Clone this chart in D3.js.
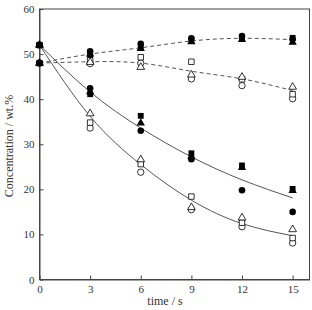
<!DOCTYPE html>
<html lang="en">
<head>
<meta charset="UTF-8"/>
<title>Concentration vs time</title>
<style>
  body { margin: 0; background: #fff; }
  text { font-family: "Liberation Serif", "DejaVu Serif", serif; fill: #333; }
</style>
<script src="https://d3js.org/d3.v7.min.js"></script>
</head>
<body>
<div id="chart"></div>
<script>
// sampling times (s)
var times = [0, 3, 6, 9, 12, 15];
var xTicks = [0, 3, 6, 9, 12, 15];
var yTicks = [0, 10, 20, 30, 40, 50, 60];

// measured points, wt.%
var fillCircleLow  = [52, 42.4, 33.0, 26.7, 19.8, 15.0];
var fillSquareLow  = [52, 41.1, 36.3, 28.0, 25.3, 20.1];
var fillTriLow     = [52, 41.6, 34.7, 27.3, 24.8, 19.7];
var openTriLow     = [52, 36.8, 26.6, 16.0, 13.7, 11.1];
var openSquareLow  = [52, 34.8, 25.6, 18.4, 12.6, 9.2];
var openCircleLow  = [52, 33.6, 23.8, 15.5, 11.7, 8.1];

var fillCircleHigh = [48, 50.6, 52.3, 53.5, 54.0, 53.3];
var fillSquareHigh = [48, 49.8, 51.5, 53.0, 53.6, 53.6];
var fillTriHigh    = [48, 50.0, 51.2, 52.7, 53.2, 52.6];
var openSquareHigh = [48, 48.6, 49.3, 48.3, 44.4, 41.1];
var openTriHigh    = [48, 48.2, 47.1, 45.4, 44.9, 42.7];
var openCircleHigh = [48, 47.9, 48.0, 44.5, 43.0, 40.1];

// fitted curves
var fitSolidUpper  = [52, 41.6, 33.6, 27.2, 22.1, 18.1];
var fitSolidLower  = [52, 36.2, 25.5, 17.6, 12.4, 9.7];
var fitDashUpper   = [48, 50.0, 51.4, 52.9, 53.5, 53.2];
var fitDashLower   = [48, 48.3, 48.0, 46.2, 44.5, 41.9];

var W = 312, H = 310;
var pLeft = 39.5, pTop = 9, pRight = 309.5, pBottom = 279.5;

var svg = d3.select("#chart").append("svg")
    .attr("width", W)
    .attr("height", H);

var x = d3.scaleLinear().domain([0, 16]).range([pLeft, pRight]);
var y = d3.scaleLinear().domain([0, 60]).range([pBottom, pTop]);

// frame
svg.append("rect")
    .attr("x", pLeft).attr("y", pTop)
    .attr("width", pRight - pLeft).attr("height", pBottom - pTop)
    .attr("fill", "none").attr("stroke", "#444").attr("stroke-width", 1);

var xAxis = svg.append("g")
    .attr("transform", "translate(0," + pBottom + ")")
    .call(d3.axisBottom(x).tickValues(xTicks).tickSizeInner(-4).tickSizeOuter(0).tickPadding(6));
var yAxis = svg.append("g")
    .attr("transform", "translate(" + pLeft + ",0)")
    .call(d3.axisLeft(y).tickValues(yTicks).tickSizeInner(-4).tickSizeOuter(0).tickPadding(5));

[xAxis, yAxis].forEach(function(g) {
  g.select(".domain").attr("stroke", "#444");
  g.selectAll(".tick line").attr("stroke", "#444");
  g.selectAll(".tick text")
    .attr("font-family", "Liberation Serif")
    .attr("font-size", 11)
    .attr("fill", "#333");
});

// fitted lines
var line = d3.line()
    .x(function(d, i) { return x(times[i]); })
    .y(function(d) { return y(d); })
    .curve(d3.curveNatural);

[fitSolidUpper, fitSolidLower].forEach(function(s) {
  svg.append("path").attr("d", line(s))
    .attr("fill", "none").attr("stroke", "#555").attr("stroke-width", 1);
});
[fitDashUpper, fitDashLower].forEach(function(s) {
  svg.append("path").attr("d", line(s))
    .attr("fill", "none").attr("stroke", "#555").attr("stroke-width", 1)
    .attr("stroke-dasharray", "4,3");
});

// markers
var series = [
  { v: openCircleLow,  sym: d3.symbolCircle,   size: 32, filled: false },
  { v: openSquareLow,  sym: d3.symbolSquare,   size: 30, filled: false },
  { v: openTriLow,     sym: d3.symbolTriangle, size: 26, filled: false },
  { v: openCircleHigh, sym: d3.symbolCircle,   size: 32, filled: false },
  { v: openSquareHigh, sym: d3.symbolSquare,   size: 30, filled: false },
  { v: openTriHigh,    sym: d3.symbolTriangle, size: 26, filled: false },
  { v: fillCircleLow,  sym: d3.symbolCircle,   size: 34, filled: true },
  { v: fillSquareLow,  sym: d3.symbolSquare,   size: 34, filled: true },
  { v: fillTriLow,     sym: d3.symbolTriangle, size: 30, filled: true },
  { v: fillCircleHigh, sym: d3.symbolCircle,   size: 34, filled: true },
  { v: fillSquareHigh, sym: d3.symbolSquare,   size: 34, filled: true },
  { v: fillTriHigh,    sym: d3.symbolTriangle, size: 30, filled: true }
];

series.forEach(function(s) {
  svg.append("g").selectAll("path")
    .data(s.v)
    .enter()
    .append("path")
    .attr("d", d3.symbol().type(s.sym).size(s.size))
    .attr("transform", function(d, i) {
      return "translate(" + x(times[i]) + "," + y(d) + ")";
    })
    .attr("fill", s.filled ? "#000" : "#fff")
    .attr("stroke", "#000")
    .attr("stroke-width", s.filled ? 0 : 0.8);
});

// axis titles
svg.append("text")
    .attr("x", 165).attr("y", 305)
    .attr("text-anchor", "middle")
    .attr("font-size", 12)
    .text("time / s");

svg.append("text")
    .attr("transform", "translate(13,146) rotate(-90)")
    .attr("text-anchor", "middle")
    .attr("font-size", 12)
    .text("Concentration / wt.%");
</script>
</body>
</html>
